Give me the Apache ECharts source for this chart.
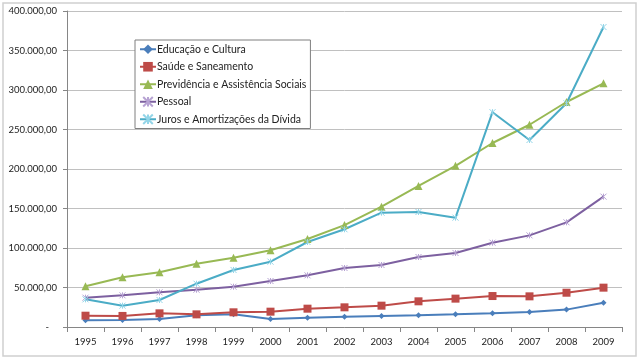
<!DOCTYPE html>
<html><head><meta charset="utf-8">
<script src="https://cdn.jsdelivr.net/npm/echarts@6/dist/echarts.min.js"></script>
<style>html,body{margin:0;padding:0;background:#fff}#c{width:642px;height:359px}</style>
</head><body><div id="c"></div>
<script>
const years = ['1995','1996','1997','1998','1999','2000','2001','2002','2003','2004','2005','2006','2007','2008','2009'];
const educacao = [8500, 9000, 10000, 14800, 16000, 10000, 11800, 13000, 14000, 14800, 16000, 17300, 19000, 22000, 30800];
const saude = [14300, 14000, 17300, 16000, 18600, 19400, 23200, 24900, 27000, 32500, 35900, 39200, 38800, 43400, 49800];
const previdencia = [51500, 62900, 69200, 80100, 87700, 97100, 111400, 129000, 152300, 178500, 204000, 232900, 256000, 284800, 308500];
const pessoal = [37100, 40100, 43900, 47200, 51000, 58200, 65400, 74700, 78500, 88600, 93700, 106700, 116000, 132500, 165000];
const juros = [35000, 27000, 34200, 54800, 72200, 82700, 107600, 123700, 144700, 145600, 138400, 271900, 236700, 283200, 379700];
const seriesNames = ['Educação e Cultura','Saúde e Saneamento','Previdência e Assistência Sociais','Pessoal','Juros e Amortizações da Dívida'];

const xPath = 'path://M0,0L10,10M10,0L0,10M5,0L5,10';
const colors = ['#4A7EBB','#BE4B48','#98B954','#7D60A0','#4BACC6'];
const markColors = ['#4A7EBB','#BE4B48','#98B954','#B7A3D3','#93D5E8'];
const symbols = ['diamond','rect','triangle',xPath,xPath];
const sizes = [6,8,8,6,6];
const datas = [educacao,saude,previdencia,pessoal,juros];
const FONT = 'Lato, "Open Sans", sans-serif';

function fmt(v){
  if (v === 0) return '{z|-}';
  const s = Math.round(v).toString().replace(/\B(?=(\d{3})+(?!\d))/g,'.');
  return s + ',00';
}

const chart = echarts.init(document.getElementById('c'), null, {renderer:'canvas'});
chart.setOption({
  animation:false,
  backgroundColor:'#fff',
  color: colors,
  graphic:[{type:'rect',shape:{x:3,y:3,width:633,height:353},style:{fill:'none',stroke:'#d0d0d0',lineWidth:1.5},z:-1}],
  grid:{left:67,right:20,top:11,bottom:32},
  legend:{
    orient:'vertical', left:135, top:40,
    data: seriesNames,
    backgroundColor:'#fff',
    borderColor:'#7f7f7f', borderWidth:1,
    padding:[3,4,3,4],
    itemGap:5, itemWidth:16, itemHeight:12,
    textStyle:{fontFamily:FONT,fontSize:10.5,color:'#222',lineHeight:12.5, padding:[0,0,0,-4]}
  },
  xAxis:{
    type:'category', data:years, boundaryGap:true,
    axisLine:{lineStyle:{color:'#868686',width:1}},
    axisTick:{show:true,length:5,lineStyle:{color:'#868686'}},
    axisLabel:{color:'#222',fontFamily:FONT,fontSize:9.5,margin:10}
  },
  yAxis:{
    type:'value', min:0, max:400000, interval:50000,
    axisLine:{show:true,lineStyle:{color:'#868686',width:1}},
    axisTick:{show:true,length:4,lineStyle:{color:'#868686'}},
    splitLine:{lineStyle:{color:'#c0c0c0',width:1}},
    axisLabel:{color:'#222',fontFamily:FONT,fontSize:9.5,margin:10,formatter:fmt,
      rich:{z:{padding:[0,8,0,0],fontFamily:FONT,fontSize:9.5,color:'#222'}}}
  },
  series: seriesNames.map((n,i)=>({
    name:n, type:'line', data:datas[i],
    symbol:symbols[i], symbolSize:sizes[i], showSymbol:true,
    lineStyle:{width:2,color:colors[i]},
    itemStyle:{color:markColors[i],borderColor:markColors[i],borderWidth:(i>=3?1:0)}
  }))
});
</script></body></html>
